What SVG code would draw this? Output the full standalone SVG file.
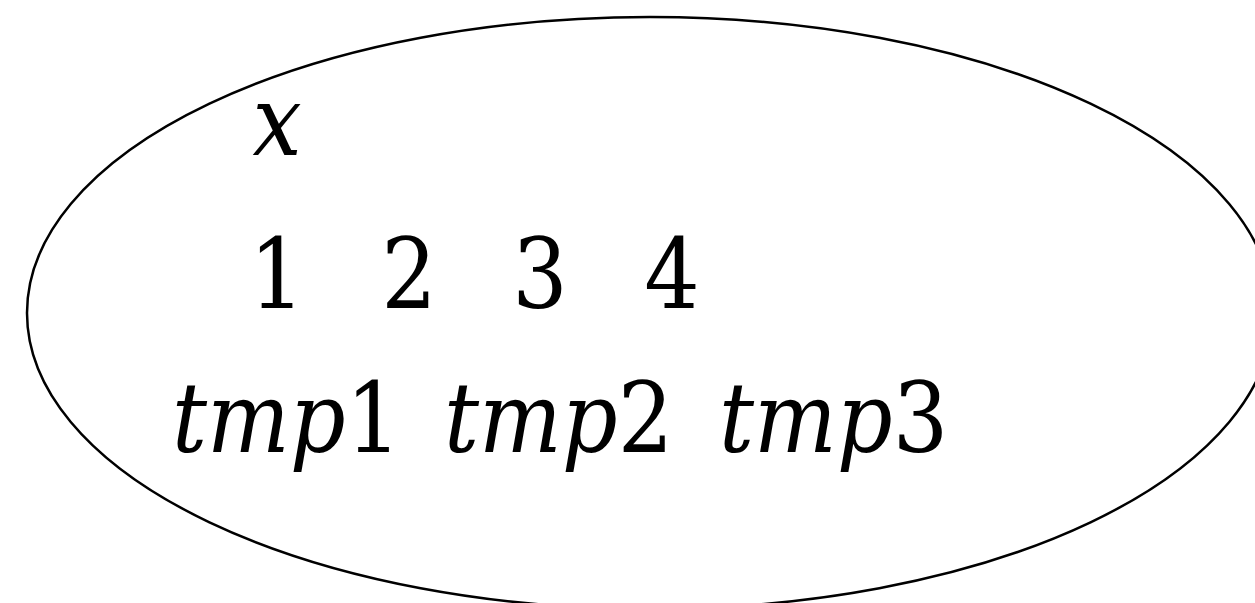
<svg xmlns="http://www.w3.org/2000/svg" width="1255" height="603" viewBox="0 0 1255 603">
<style>
text{font-family:'DejaVu Serif Condensed','DejaVu Serif','Liberation Serif',serif;font-stretch:condensed;font-size:97px;fill:#000}
.i{font-style:italic}
</style>
<rect width="1255" height="603" fill="#fff"/>
<g id="set">
<ellipse cx="650" cy="313" rx="623" ry="296" fill="none" stroke="#000" stroke-width="2.5"/>
</g>
<g id="var-x"><text class="i" x="277" y="155" text-anchor="middle" font-size="100">x</text></g>
<g id="n1"><text x="277" y="308" text-anchor="middle">1</text></g>
<g id="n2"><text x="409" y="308" text-anchor="middle">2</text></g>
<g id="n3"><text x="540" y="308" text-anchor="middle">3</text></g>
<g id="n4"><text x="672" y="308" text-anchor="middle">4</text></g>
<g id="tmp1"><text x="172" y="452"><tspan class="i">tmp</tspan>1</text></g>
<g id="tmp2"><text x="444" y="452"><tspan class="i">tmp</tspan>2</text></g>
<g id="tmp3"><text x="719" y="452"><tspan class="i">tmp</tspan>3</text></g>
</svg>
